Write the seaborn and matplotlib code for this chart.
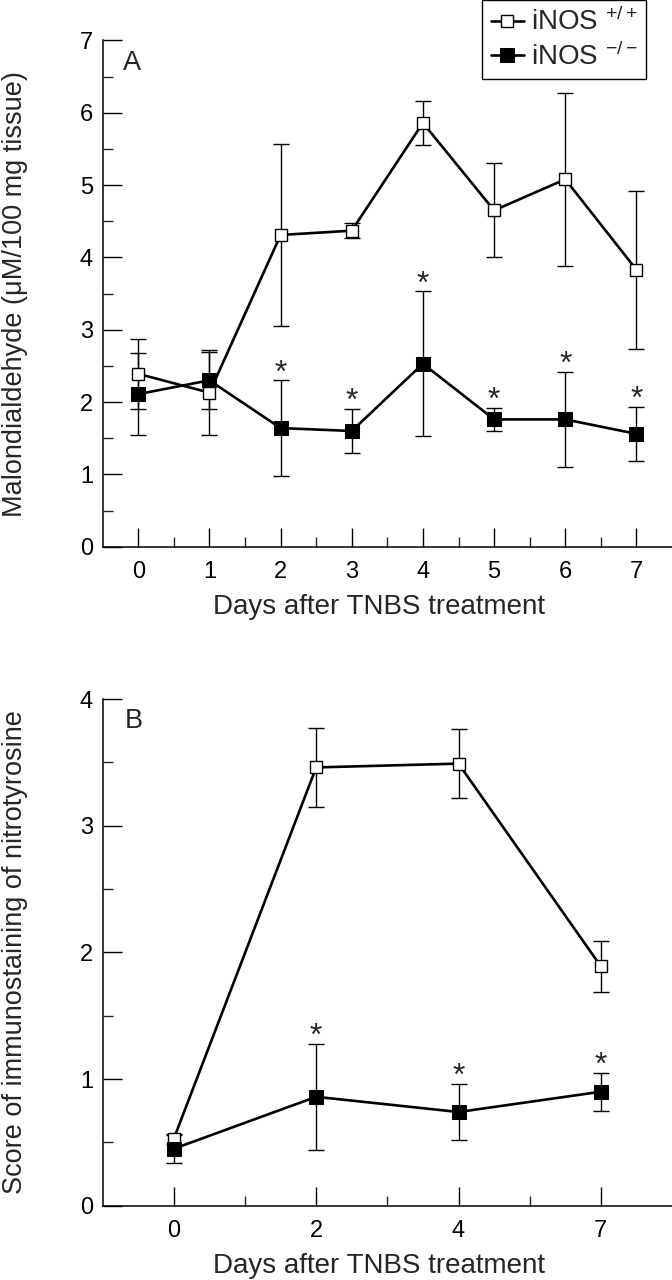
import numpy as np
import pandas as pd
import matplotlib
matplotlib.use('Agg')
import matplotlib.pyplot as plt
import seaborn as sns

# panel A: malondialdehyde
days_a = [0, 1, 2, 3, 4, 5, 6, 7]
mda_wt = [2.39, 2.13, 4.31, 4.37, 5.86, 4.65, 5.08, 3.83]
mda_wt_err = [0.48, 0.59, 1.26, 0.10, 0.30, 0.65, 1.20, 1.09]
mda_ko = [2.11, 2.30, 1.64, 1.60, 2.53, 1.76, 1.76, 1.56]
mda_ko_err = [0.57, 0.39, 0.66, 0.31, 1.00, 0.16, 0.66, 0.37]
sig_a = [False, False, True, True, True, True, True, True]

# panel B: nitrotyrosine score
days_b = ['0', '2', '4', '7']
nt_wt = [0.53, 3.46, 3.49, 1.89]
nt_wt_err = [0.04, 0.31, 0.27, 0.20]
nt_ko = [0.45, 0.86, 0.74, 0.90]
nt_ko_err = [0.11, 0.42, 0.22, 0.15]
sig_b = [False, True, True, True]

sns.set_theme(style='ticks')
plt.rcParams['font.family'] = ['Liberation Sans', 'DejaVu Sans']
plt.rcParams['mathtext.fontset'] = 'custom'
plt.rcParams['mathtext.rm'] = 'Liberation Sans'
plt.rcParams['mathtext.it'] = 'Liberation Sans'
plt.rcParams['axes.linewidth'] = 1.1
plt.rcParams['axes.edgecolor'] = 'black'

fig = plt.figure(figsize=(6.72, 12.8), dpi=100)
ax1 = fig.add_axes([0.1528, 0.5729, 0.8472, 0.3955])
ax2 = fig.add_axes([0.1528, 0.0580, 0.8472, 0.3959])


def draw(ax, x, wt, wt_err, ko, ko_err, sig):
    ax.errorbar(x, wt, yerr=wt_err, fmt='none', ecolor='black', elinewidth=1.0,
                capsize=6, capthick=1.0, zorder=1)
    ax.errorbar(x, ko, yerr=ko_err, fmt='none', ecolor='black', elinewidth=1.0,
                capsize=6, capthick=1.0, zorder=1)
    sns.lineplot(x=x, y=wt, ax=ax, color='black', lw=1.9, marker='s', markersize=9,
                 markerfacecolor='white', markeredgecolor='black', markeredgewidth=1.0,
                 label='iNOS $^{+/+}$', zorder=2)
    sns.lineplot(x=x, y=ko, ax=ax, color='black', lw=1.9, marker='s', markersize=9.6,
                 markerfacecolor='black', markeredgecolor='black',
                 label='iNOS $^{-/-}$', zorder=3)
    for xi, yi, ei, s in zip(x, ko, ko_err, sig):
        if s:
            ax.annotate('*', (xi, yi + ei), xytext=(0, 5), textcoords='offset points',
                        ha='center', va='center', fontsize=23)
    ax.spines['top'].set_visible(False)
    ax.spines['right'].set_visible(False)
    ax.tick_params(which='major', direction='in', length=14, width=1.0, labelsize=17,
                   colors='black')
    ax.tick_params(which='minor', direction='in', length=7, width=1.0)
    ax.tick_params(axis='y', which='both', pad=7)
    ax.tick_params(axis='x', which='both', pad=10)
    ax.set_xlabel('Days after TNBS treatment', fontsize=20)
    ax.xaxis.set_label_coords(0.4845, -0.094)
    ax.yaxis.set_label_coords(-0.132, 0.5)


draw(ax1, days_a, mda_wt, mda_wt_err, mda_ko, mda_ko_err, sig_a)
ax1.set_xlim(-0.5, 7.5)
ax1.set_ylim(0, 7)
ax1.set_xticks(days_a)
ax1.set_xticks(np.arange(0.5, 7, 1), minor=True)
ax1.set_yticks(range(0, 8))
ax1.set_yticks(np.arange(0.5, 7, 1), minor=True)
ax1.set_ylabel('Malondialdehyde (\u03bcM/100 mg tissue)', fontsize=19.5)
ax1.text(0.036, 0.981, 'A', transform=ax1.transAxes, ha='left', va='top', fontsize=19.5)
leg = ax1.legend(loc='upper right', bbox_to_anchor=(0.979, 1.108), fontsize=20,
                 frameon=True, fancybox=False, edgecolor='black', framealpha=1,
                 handlelength=1.2, handletextpad=0.25, labelspacing=0.2,
                 borderpad=0.3, numpoints=1)
leg.get_frame().set_linewidth(1.0)

pos_b = np.arange(len(days_b))
draw(ax2, pos_b, nt_wt, nt_wt_err, nt_ko, nt_ko_err, sig_b)
ax2.get_legend().remove()
ax2.set_xlim(-0.5, 3.5)
ax2.set_ylim(0, 4)
ax2.set_xticks(pos_b)
ax2.set_xticklabels(days_b)
ax2.set_xticks(np.arange(0.5, 3, 1), minor=True)
ax2.set_yticks(range(0, 5))
ax2.set_yticks(np.arange(0.5, 4, 1), minor=True)
ax2.set_ylabel('Score of immunostaining of nitrotyrosine', fontsize=19.5)
ax2.text(0.039, 0.982, 'B', transform=ax2.transAxes, ha='left', va='top', fontsize=19.5)

fig.savefig('out.png', dpi=100)
